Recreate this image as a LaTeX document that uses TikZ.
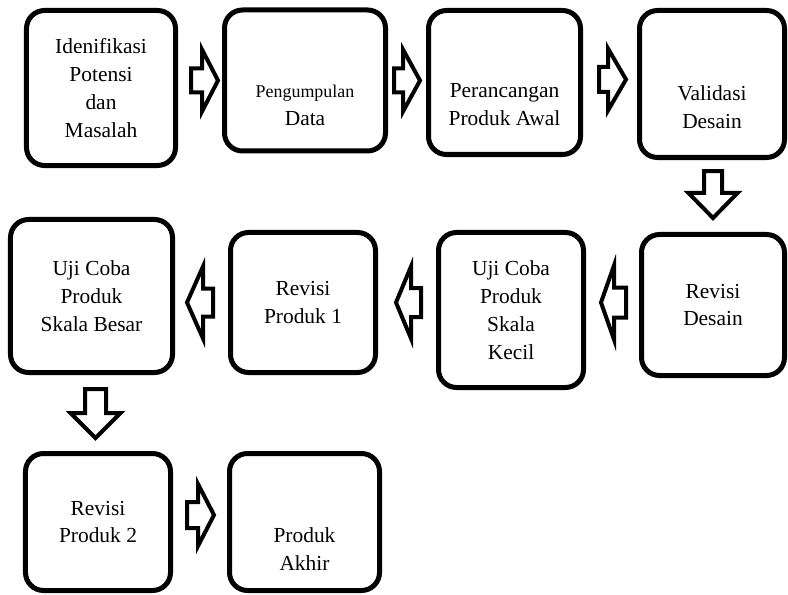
\documentclass[tikz,border=0pt]{standalone}
\usepackage{fontspec}
\setmainfont{Liberation Serif}
\usetikzlibrary{calc}
\definecolor{ink}{HTML}{000000}

% hollow block arrow: from, to, shaft half width, head half width, head length
\newcommand{\fatarrow}[5]{%
\coordinate (fa) at #1; \coordinate (fb) at #2; \coordinate (fh) at ($(fb)!#5bp!(fa)$);
\draw[blk] ($(fa)!#3bp!90:(fb)$) -- ($(fh)!#3bp!90:(fb)$) -- ($(fh)!#4bp!90:(fb)$) -- (fb)
  -- ($(fh)!#4bp!-90:(fb)$) -- ($(fh)!#3bp!-90:(fb)$) -- ($(fa)!#3bp!-90:(fb)$) -- cycle;}

\begin{document}
\begin{tikzpicture}[x=1bp,y=-1bp,
  box/.style={draw=ink,line width=5bp,rounded corners=18bp,inner sep=0pt},
  txt/.style={align=center,font=\fontsize{21.5}{28}\selectfont,inner sep=0pt},
  blk/.style={draw=ink,line width=4bp,fill=white,line join=miter}]
\useasboundingbox (0,0) rectangle (788,595);
% first row
\node[box,minimum width=149bp,minimum height=155bp] (b1) at (101,88) {};
\node[box,minimum width=161bp,minimum height=141bp] (b2) at (305,80.5) {};
\node[box,minimum width=152bp,minimum height=144bp] (b3) at (504.5,82.5) {};
\node[box,minimum width=145bp,minimum height=147bp] (b4) at (712,84) {};
% second row
\node[box,minimum width=162bp,minimum height=153bp] (b5) at (91.5,296) {};
\node[box,minimum width=145bp,minimum height=140bp] (b6) at (303,302.5) {};
\node[box,minimum width=145bp,minimum height=155bp] (b7) at (511,310) {};
\node[box,minimum width=143bp,minimum height=141bp] (b8) at (713,305) {};
% third row
\node[box,minimum width=145bp,minimum height=137bp] (b9) at (98,522) {};
\node[box,minimum width=150bp,minimum height=137bp] (b10) at (304.5,522) {};
% labels
\node[txt] (t1) at (b1) {Idenifikasi\\Potensi\\dan\\Masalah};
\node[txt] (t2) at ($(b2)+(0,25)$) {{\fontsize{18}{28}\selectfont Pengumpulan}\\Data};
\node[txt] (t3) at ($(b3)+(0,22)$) {Perancangan\\Produk Awal};
\node[txt] (t4) at ($(b4)+(0,23)$) {Validasi\\Desain};
\node[txt] (t5) at (b5) {Uji Coba\\Produk\\Skala Besar};
\node[txt] (t6) at (b6) {Revisi\\Produk 1};
\node[txt] (t7) at (b7) {Uji Coba\\Produk\\Skala\\Kecil};
\node[txt] (t8) at (b8) {Revisi\\Desain};
\node[txt] (t9) at (b9) {Revisi\\Produk 2};
\node[txt] (t10) at ($(b10)+(0,27)$) {Produk\\Akhir};
% arrows
\fatarrow{($(b2.west-|b1.east)+(13,0)$)}{($(b2.west)+(-4,0)$)}{12}{31}{16}
\fatarrow{($(b2.east)+(6,0)$)}{($(b3.west|-b2.east)+(-6,0)$)}{12}{31}{17}
\fatarrow{($(b3.east)+(16,-3)$)}{($(b4.west|-b3.east)+(-11,-3)$)}{12.5}{31}{18}
\fatarrow{($(b4.south-|b8.north)+(0,11)$)}{($(b8.north)+(0,-14)$)}{9}{24.5}{25}
\fatarrow{($(b8.west)+(-13,-2.5)$)}{($(b7.east|-b8.west)+(15,-2.5)$)}{15}{37}{13}
\fatarrow{($(b7.west|-b6.east)+(-15,0)$)}{($(b6.east)+(18,0)$)}{14.5}{36}{15}
\fatarrow{($(b6.west)+(-15,0)$)}{($(b5.east|-b6.west)+(12,0)$)}{14}{36}{16}
\fatarrow{($(b5.south)+(4,14)$)}{($(b5.south|-b9.north)+(4,-13)$)}{10.5}{25}{25}
\fatarrow{($(b9.east)+(14,-7)$)}{($(b10.west|-b9.east)+(-13,-7)$)}{13}{31}{16}
\end{tikzpicture}
\end{document}
